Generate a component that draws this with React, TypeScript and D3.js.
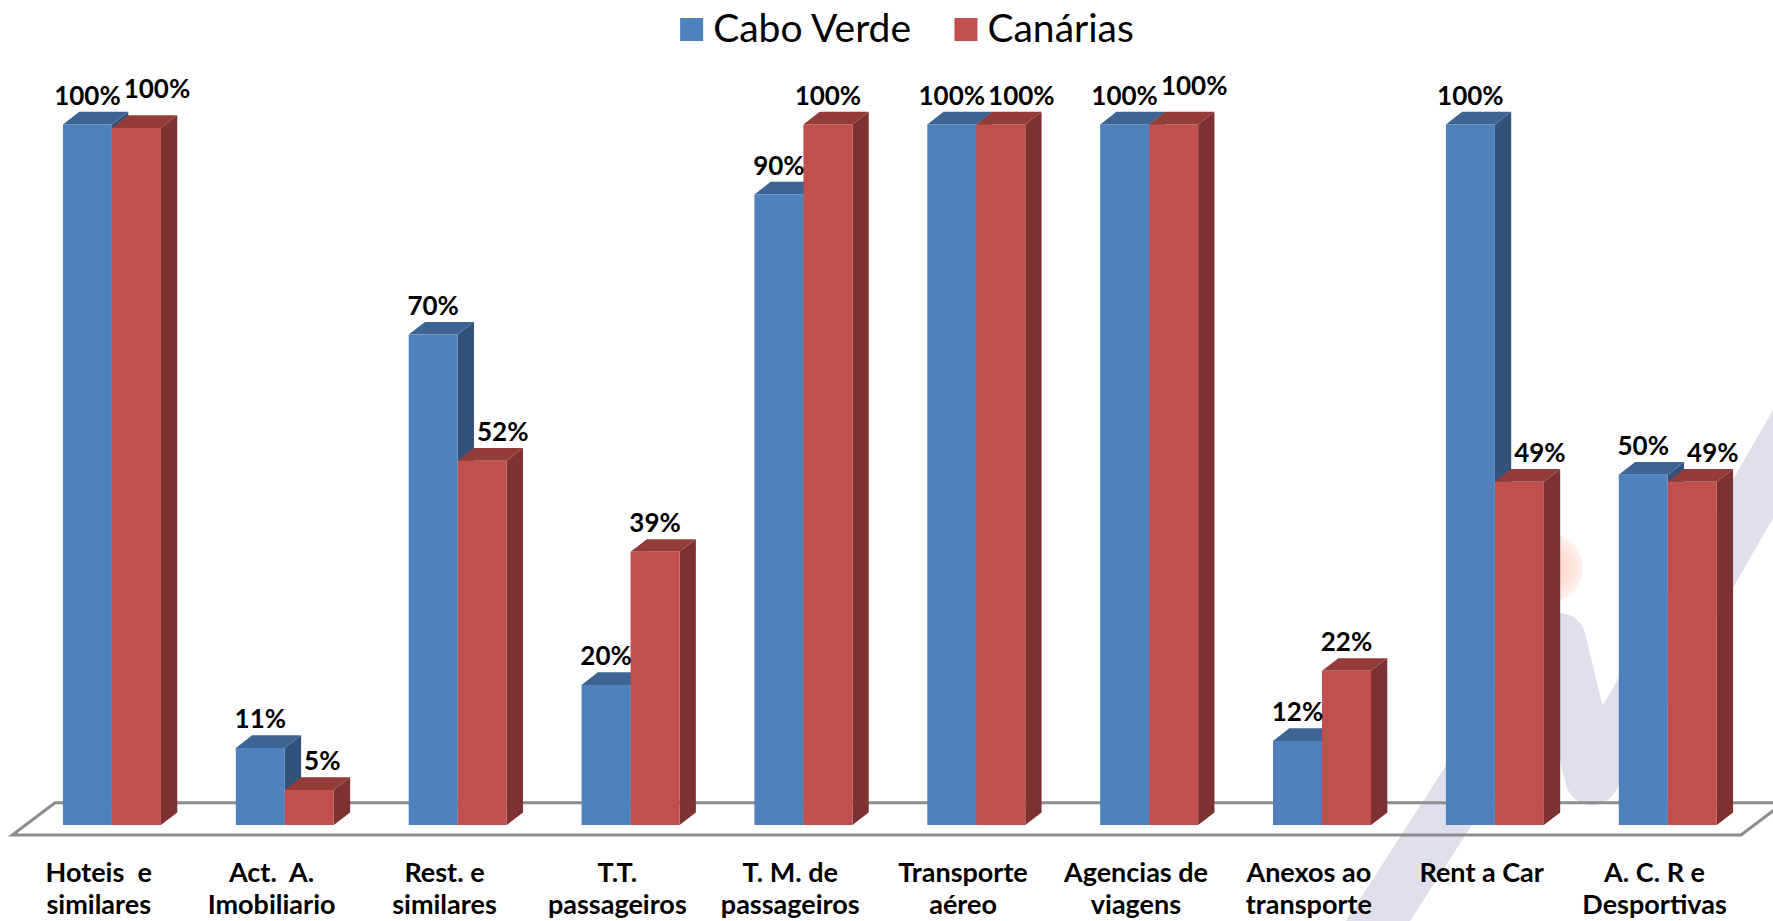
import React from "react";
import * as d3 from "d3";

// ---------- data ----------
const categories = [
  "Hoteis  e\nsimilares",
  "Act.  A.\nImobiliario",
  "Rest. e\nsimilares",
  "T.T.\npassageiros",
  "T. M. de\npassageiros",
  "Transporte\naéreo",
  "Agencias de\nviagens",
  "Anexos ao\ntransporte",
  "Rent a Car",
  "A. C. R e\nDesportivas",
];
const seriesNames = ["Cabo Verde", "Canárias"];
const caboVerde = [100, 11, 70, 20, 90, 100, 100, 12, 100, 50];
const canarias = [99.5, 5, 52, 39, 100, 100, 100, 22, 49, 49];

// ---------- layout / style ----------
const W = 1773;
const H = 921;
const FONT = "Lato, 'Open Sans', sans-serif";
const colors = {
  front: ["#4F81BD", "#C0504D"],
  top: ["#3E6493", "#943C3A"],
  side: ["#32527C", "#7D3130"],
};
const floorFrontY = 835;
const floorDepth = { dx: 42.7, dy: -32.3 };
const barShift = { dx: 13.2, dy: -10 };
const barDepth = { dx: 16.3, dy: -12.6 };
const plotTopY = 124.4;

let canvasCtx: CanvasRenderingContext2D | null = null;
function measure(text: string, font: string): number {
  if (!canvasCtx) {
    const c = document.createElement("canvas");
    canvasCtx = c.getContext("2d");
  }
  if (!canvasCtx) return text.length * 14;
  canvasCtx.font = font;
  return canvasCtx.measureText(text).width;
}

export default function App() {
  const x = d3
    .scaleBand<string>()
    .domain(categories)
    .range([12.3, 1741])
    .paddingInner(0)
    .paddingOuter(0);
  const groupW = 98;
  const xs = d3
    .scaleBand<string>()
    .domain(seriesNames)
    .range([0, groupW])
    .padding(0);
  const barBottom = floorFrontY + barShift.dy;
  const y = d3.scaleLinear().domain([0, 100]).range([barBottom, plotTopY]);

  const series = [caboVerde, canarias];
  const labelFontSize = 26;
  const labelFont = `bold ${labelFontSize}px Lato`;
  const capH = labelFontSize * 0.72;

  const bars: React.ReactNode[] = [];
  const labels: React.ReactNode[] = [];

  categories.forEach((cat, i) => {
    const gx = (x(cat) as number) + x.bandwidth() / 2 + barShift.dx - groupW / 2;
    const boxes: { x0: number; x1: number; y0: number; y1: number }[] = [];
    series.forEach((vals, s) => {
      const v = vals[i];
      const x0 = gx + (xs(seriesNames[s]) as number);
      const x1 = x0 + xs.bandwidth();
      const yt = y(v);
      const yb = barBottom;
      const { dx, dy } = barDepth;
      bars.push(
        <g key={`b-${i}-${s}`}>
          <path
            d={`M${x1},${yt}L${x1 + dx},${yt + dy}L${x1 + dx},${yb + dy}L${x1},${yb}Z`}
            fill={colors.side[s]}
          />
          <path
            d={`M${x0},${yt}L${x0 + dx},${yt + dy}L${x1 + dx},${yt + dy}L${x1},${yt}Z`}
            fill={colors.top[s]}
          />
          <rect x={x0} y={yt} width={x1 - x0} height={yb - yt} fill={colors.front[s]} />
        </g>
      );
      // label placement with simple collision avoidance
      const text = `${Math.round(v)}%`;
      const w = measure(text, labelFont);
      let cx = (x0 + x1) / 2;
      let base = yt + dy - 7;
      const box = () => ({ x0: cx - w / 2, x1: cx + w / 2, y0: base - capH, y1: base });
      let hitLabel = false;
      boxes.forEach((o, k) => {
        const b = box();
        if (b.x0 < o.x1 && b.x1 > o.x0 && b.y0 < o.y1 && b.y1 > o.y0) {
          cx = o.x1 + w / 2 + 3;
          if (k === 1 && Math.abs(v - series[0][i]) < 1) hitLabel = true;
        }
      });
      if (hitLabel && i % 3 === 0) base -= 10;
      boxes.push({ x0: x0, x1: x1 + dx, y0: yt + dy, y1: yb });
      boxes.push(box());
      labels.push(
        <text
          key={`l-${i}-${s}`}
          x={cx}
          y={base}
          textAnchor="middle"
          fontFamily={FONT}
          fontWeight="bold"
          fontSize={labelFontSize}
          fill="#000"
        >
          {text}
        </text>
      );
    });
  });

  const [fx0, fx1] = x.range();
  const floorPath = `M${fx0},${floorFrontY}L${fx1},${floorFrontY}L${fx1 + floorDepth.dx},${
    floorFrontY + floorDepth.dy
  }L${fx0 + floorDepth.dx},${floorFrontY + floorDepth.dy}Z`;

  const wm = d3.line()([
    [1327, 1000],
    [1559, 640],
    [1592, 778],
    [1810, 400],
  ]) as string;

  // legend
  const legendFontSize = 39;
  const legendFont = `${legendFontSize}px Lato`;
  const sq = 23;
  const gapSqText = 10;
  const gapItems = 42;
  const itemWidths = seriesNames.map((n) => sq + gapSqText + measure(n, legendFont));
  const legendTotal = itemWidths[0] + gapItems + itemWidths[1];
  let lx = 907 - legendTotal / 2;

  return (
    <svg
      width={W}
      height={H}
      style={{ position: "absolute", left: 0, top: 0, display: "block", background: "#fff" }}
    >
      <defs>
        <radialGradient id="dot">
          <stop offset="0%" stopColor="#fcd6c9" />
          <stop offset="65%" stopColor="#fde1d7" />
          <stop offset="100%" stopColor="#fef3ee" />
        </radialGradient>
      </defs>
      <rect width={W} height={H} fill="#fff" />
      {/* watermark */}
      <circle cx={1548} cy={568} r={35} fill="url(#dot)" />
      <path
        d={wm}
        fill="none"
        stroke="#dfe0ec"
        strokeWidth={54}
        strokeLinejoin="round"
        strokeLinecap="round"
      />
      {/* floor */}
      <path d={floorPath} fill="none" stroke="#8d8d8d" strokeWidth={3} />
      {bars}
      {labels}
      {/* category labels */}
      {categories.map((cat) => {
        const cx = (x(cat) as number) + x.bandwidth() / 2;
        const lines = cat.split("\n");
        return (
          <text
            key={`c-${cat}`}
            textAnchor="middle"
            fontFamily={FONT}
            fontWeight="bold"
            fontSize={27}
            fill="#000"
            style={{ whiteSpace: "pre" }}
          >
            {lines.map((ln, k) => (
              <tspan key={k} x={cx} y={882 + k * 32}>
                {ln}
              </tspan>
            ))}
          </text>
        );
      })}
      {/* legend */}
      {seriesNames.map((n, s) => {
        const gx = lx;
        lx += itemWidths[s] + gapItems;
        return (
          <g key={`lg-${n}`}>
            <rect x={gx} y={18} width={sq} height={sq} fill={colors.front[s]} />
            <text
              x={gx + sq + gapSqText}
              y={42}
              fontFamily={FONT}
              fontSize={legendFontSize}
              fill="#000"
            >
              {n}
            </text>
          </g>
        );
      })}
    </svg>
  );
}
